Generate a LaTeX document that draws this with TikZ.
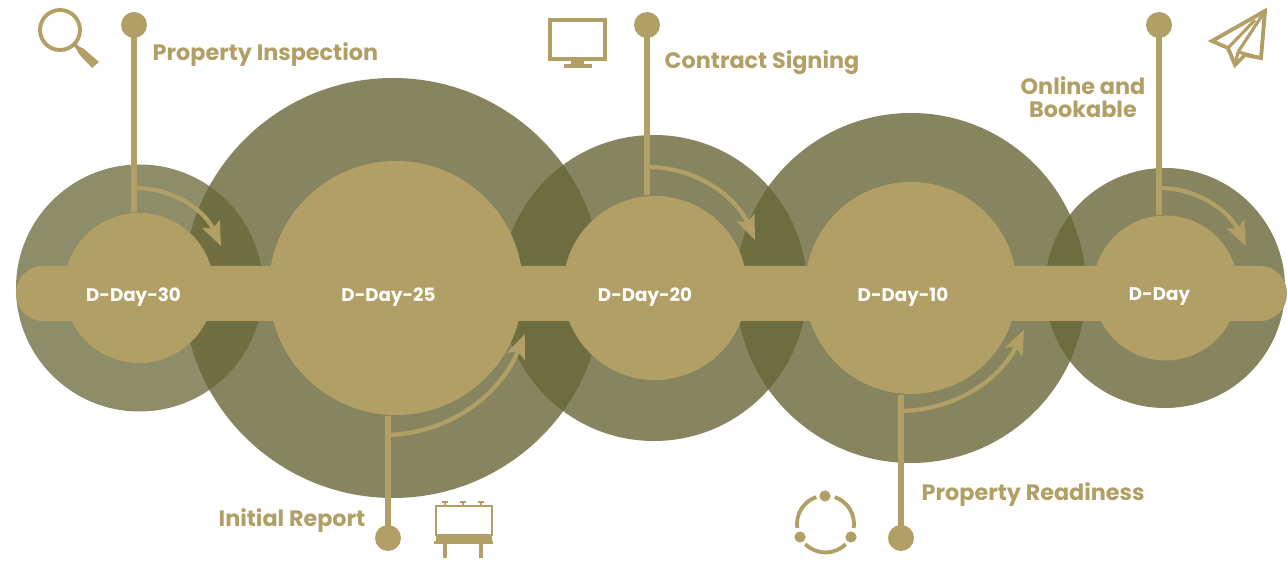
\documentclass[tikz,border=0pt]{standalone}
\usepackage{fontspec}
\setmainfont{Poppins}
\usetikzlibrary{arrows.meta}
\definecolor{gold}{HTML}{B19F66}
\definecolor{olive}{HTML}{686737}
\tikzset{
	outer/.style={circle, fill=olive, fill opacity=0.8, inner sep=0pt},
	inner/.style={circle, fill=gold, inner sep=0pt},
	pin/.style={circle, fill=gold, inner sep=0pt, outer sep=0pt, minimum size=0.26cm},
	stem/.style={line width=1.6pt, color=gold},
	turn/.style={line width=1.2pt, color=gold, -{Stealth[length=0.24cm, width=0.19cm, inset=0.05cm]}},
	day/.style={text=white, font=\fontsize{5.2}{7}\selectfont\bfseries},
	title/.style={text=gold, font=\fontsize{6.35}{6.55}\selectfont\bfseries, inner sep=0pt},
}
\begin{document}
\begin{tikzpicture}
	\useasboundingbox (0,0) rectangle (12.87,5.63);
	%outer circles
	\node[outer, fill opacity=0.75, minimum size=2.47cm] (outerA) at (1.395, 2.75) {};
	\node[outer, minimum size=4.20cm] (outerB) at (3.93, 2.75) {};
	\node[outer, minimum size=3.06cm] (outerC) at (6.54, 2.75) {};
	\node[outer, minimum size=3.50cm] (outerD) at (9.11, 2.75) {};
	\node[outer, minimum size=2.40cm] (outerE) at (11.65, 2.75) {};
	%bar
	\fill[gold, rounded corners=0.27cm] (0.16, 2.42) rectangle (12.87, 2.97);
	%inner circles
	\node[inner, minimum size=1.50cm] (innerA) at (1.39, 2.75) {};
	\node[inner, minimum size=2.54cm] (innerB) at (3.96, 2.75) {};
	\node[inner, minimum size=1.84cm] (innerC) at (6.55, 2.75) {};
	\node[inner, minimum size=2.12cm] (innerD) at (9.11, 2.75) {};
	\node[inner, minimum size=1.45cm] (innerE) at (11.655, 2.75) {};
	\node[day] (dayA) at (1.335, 2.66) {D-Day-30};
	\node[day] (dayB) at (3.885, 2.66) {D-Day-25};
	\node[day] (dayC) at (6.45, 2.66) {D-Day-20};
	\node[day] (dayD) at (9.03, 2.66) {D-Day-10};
	\node[day] (dayE) at (11.595, 2.66) {D-Day};
	%pins and stems
	\node[pin] (pinA) at (1.34, 5.38) {};
	\node[pin] (pinB) at (3.88, 0.25) {};
	\node[pin] (pinC) at (6.47, 5.38) {};
	\node[pin] (pinD) at (9.01, 0.25) {};
	\node[pin] (pinE) at (11.59, 5.38) {};
	\draw[stem] (pinA.center) -- (pinA |- innerA.north);
	\draw[stem] (pinB.center) -- (pinB |- innerB.south);
	\draw[stem] (pinC.center) -- (pinC |- innerC.north);
	\draw[stem] (pinD.center) -- (pinD |- innerD.south);
	\draw[stem] (pinE.center) -- (pinE |- innerE.north);
	%turning arrows
	\coordinate (fromA) at (1.34, 3.75);
	\coordinate (toA) at (2.21, 3.17);
	\coordinate (fromB) at (3.88, 1.28);
	\coordinate (toB) at (5.25, 2.29);
	\coordinate (fromC) at (6.47, 3.96);
	\coordinate (toC) at (7.55, 3.23);
	\coordinate (fromD) at (9.01, 1.52);
	\coordinate (toD) at (10.24, 2.33);
	\coordinate (fromE) at (11.59, 3.75);
	\coordinate (toE) at (12.46, 3.17);
	\draw[turn] (fromA) .. controls (1.75, 3.75) and (2.05, 3.52) .. (toA);
	\draw[turn] (fromB) .. controls (4.5, 1.3) and (5.0, 1.68) .. (toB);
	\draw[turn] (fromC) .. controls (7.0, 3.96) and (7.38, 3.63) .. (toC);
	\draw[turn] (fromD) .. controls (9.55, 1.53) and (10.0, 1.83) .. (toD);
	\draw[turn] (fromE) .. controls (12.0, 3.75) and (12.3, 3.5) .. (toE);
	%labels
	\node[title, anchor=west] (titleA) at (1.52, 5.08) {Property Inspection};
	\node[title, anchor=east] (titleB) at (3.66, 0.42) {Initial Report};
	\node[title, anchor=west] (titleC) at (6.64, 5.00) {Contract Signing};
	\node[title, anchor=west] (titleD) at (9.21, 0.68) {Property Readiness};
	\node[title, align=center] (titleE) at (10.83, 4.66) {Online and\\Bookable};
	%magnifier
	\draw[line width=1.1pt, color=gold] (0.60, 5.33) circle (0.20);
	\draw[line width=1.1pt, color=gold] (0.75, 5.18) -- (0.80, 5.13);
	\fill[gold] (0.78, 5.17) -- (0.84, 5.14) -- (0.99, 5.01) -- (0.92, 4.95) -- (0.79, 5.09) -- (0.76, 5.15) -- cycle;
	%monitor
	\draw[line width=1.4pt, color=gold] (5.50, 5.43) rectangle (6.05, 5.04);
	\fill[gold] (5.71, 5.05) rectangle (5.84, 4.99);
	\fill[gold] (5.64, 4.99) rectangle (5.92, 4.95);
	%billboard
	\draw[line width=0.8pt, color=gold] (4.36, 0.28) rectangle (4.92, 0.57);
	\fill[gold] (4.36, 0.29) rectangle (4.92, 0.21);
	\fill[gold] (4.34, 0.22) rectangle (4.93, 0.19);
	\draw[line width=1pt, color=gold] (4.45, 0.19) -- (4.45, 0.05);
	\draw[line width=1pt, color=gold] (4.81, 0.19) -- (4.81, 0.05);
	\draw[line width=0.5pt, color=gold] (4.45, 0.57) -- (4.45, 0.61);
	\draw[line width=0.5pt, color=gold] (4.63, 0.57) -- (4.63, 0.61);
	\draw[line width=0.5pt, color=gold] (4.81, 0.57) -- (4.81, 0.61);
	\draw[line width=0.8pt, color=gold] (4.42, 0.61) -- (4.48, 0.61);
	\draw[line width=0.8pt, color=gold] (4.60, 0.61) -- (4.66, 0.61);
	\draw[line width=0.8pt, color=gold] (4.78, 0.61) -- (4.84, 0.61);
	%ring
	\draw[line width=1.1pt, color=gold] (8.255, 0.39) ++(109:0.285) arc (109:188:0.285);
	\draw[line width=1.1pt, color=gold] (8.255, 0.39) ++(71:0.285) arc (71:-8:0.285);
	\draw[line width=1.1pt, color=gold] (8.255, 0.39) ++(-135:0.285) arc (-135:-45:0.285);
	\fill[gold] (8.25, 0.67) circle (0.056);
	\fill[gold] (8.00, 0.26) circle (0.056);
	\fill[gold] (8.51, 0.26) circle (0.056);
	%plane
	\draw[line width=1.1pt, color=gold, line join=miter] (12.65, 5.52) -- (12.12, 5.22) -- (12.28, 5.15) -- (12.35, 4.98) -- (12.45, 5.08) -- (12.61, 5.05) -- cycle;
	\draw[line width=0.9pt, color=gold] (12.28, 5.15) -- (12.55, 5.43);
	\draw[line width=0.9pt, color=gold] (12.38, 5.11) -- (12.65, 5.52);
	\draw[line width=0.9pt, color=gold] (12.38, 5.11) -- (12.35, 4.98);
	\draw[line width=0.9pt, color=gold] (12.38, 5.11) -- (12.61, 5.05);
\end{tikzpicture}
\end{document}
